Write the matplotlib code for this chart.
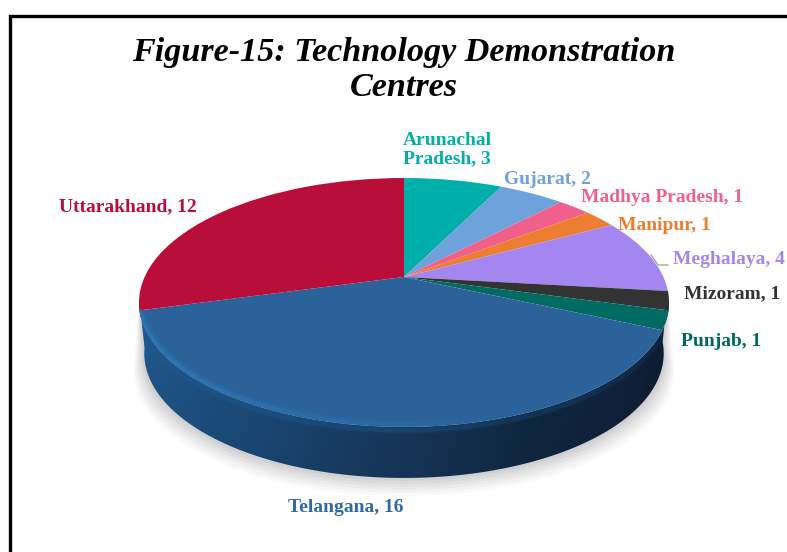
import numpy as np
import matplotlib
matplotlib.use("Agg")
import matplotlib.pyplot as plt
from matplotlib.transforms import Transform
from matplotlib.patches import Polygon
from matplotlib.collections import LineCollection
from matplotlib.colors import to_rgb

states = ["Arunachal\nPradesh", "Gujarat", "Madhya Pradesh", "Manipur", "Meghalaya",
          "Mizoram", "Punjab", "Telangana", "Uttarakhand"]
centres = [3, 2, 1, 1, 4, 1, 1, 16, 12]
slice_colors = ["#00AFA9", "#6EA2DB", "#F0608A", "#ED7D31", "#A386EF",
                "#333333", "#006B63", "#2A6299", "#B90E3A"]
label_colors = ["#00AFA9", "#6EA2DB", "#F0608A", "#ED7D31", "#A386EF",
                "#333333", "#00695F", "#2E6AA3", "#B90E3A"]
label_xy = [(403, 150), (504, 179), (581, 197), (618, 225), (673, 260),
            (684, 294), (681, 341), (288, 507), (59, 207)]
title = "Figure-15: Technology Demonstration\nCentres"

CX, CY, A, B, K = 404.0, 277.0, 259.4, 119.26, 0.2047
DEPTH = 51.0
plt.rcParams["font.family"] = ["Liberation Serif", "DejaVu Serif"]


def project(xy):
    xy = np.asarray(xy, float)
    w = 1 + K * xy[..., 1]
    return np.stack([CX + A * xy[..., 0] / w, CY - B * xy[..., 1] / w], axis=-1)


class Perspective(Transform):
    input_dims = output_dims = 2
    is_affine = False

    def transform_non_affine(self, values):
        return project(values)


def arc(t1, t2, n=200):
    t = np.radians(np.linspace(t1, t2, n))
    return project(np.column_stack([np.cos(t), np.sin(t)]))


fig = plt.figure(figsize=(7.87, 5.52), dpi=100)
ax = fig.add_axes([0, 0, 1, 1])
wedges, _ = ax.pie(centres, colors=slice_colors, startangle=90, counterclock=False,
                   wedgeprops=dict(linewidth=0))
ax.set_aspect("auto")
ax.set_xlim(0, 787)
ax.set_ylim(552, 0)
ax.axis("off")
persp = Perspective() + ax.transData
for w in wedges:
    w.set_transform(persp)
    w.set_zorder(5)

# wall runs along the front of the pie, from the Mizoram slice to just past Telangana
tel = wedges[7]
wall_t1 = tel.theta1 - 6
wall_t2 = wedges[5].theta2
front = arc(wall_t1, wall_t2, 300)
back = front.copy()
back[:, 1] += DEPTH
back[:, 0] = CX + (back[:, 0] - CX) * 0.98
wall = np.vstack([front, back[::-1]])

# soft shadow
for grow, alpha in [(18, 0.04), (15, 0.05), (12, 0.06), (9, 0.06), (6, 0.07), (3, 0.08)]:
    sh = back.copy()
    sh[:, 0] = CX + (sh[:, 0] - CX) * (1 + grow / 265 * 0.6)
    sh[:, 1] += grow
    ax.add_patch(Polygon(np.vstack([front, sh[::-1]]), closed=True, fc="#707078", ec="none",
                         alpha=alpha, zorder=1))

# wall with horizontal and vertical shading
stops_x = [130, 250, 330, 420, 520, 640, 680]
stops_c = [(33, 90, 143), (28, 76, 124), (26, 66, 108), (24, 56, 92), (17, 42, 70), (15, 34, 58), (12, 26, 44)]
xs = np.linspace(130, 680, 300)
ys = np.linspace(300, 480, 120)
img = np.zeros((len(ys), len(xs), 3))
for c in range(3):
    col = np.interp(xs, stops_x, [s[c] for s in stops_c]) / 255
    img[:, :, c] = col
shade = np.interp(ys, [300, 480], [1.0, 0.9])
img *= shade[:, None, None]
im = ax.imshow(img, extent=(130, 680, 480, 300), origin="upper", aspect="auto", zorder=2,
               interpolation="bilinear")
clip = Polygon(wall, closed=True, transform=ax.transData, fc="none", ec="none")
ax.add_patch(clip)
im.set_clip_path(clip)
ax.set_xlim(0, 787)
ax.set_ylim(552, 0)

# bevel along the rim of the Telangana slice
rim = arc(tel.theta1, tel.theta2, 300)
segs = np.stack([rim[:-1], rim[1:]], axis=1)
frac = np.linspace(1, 0, len(segs))  # 1 = left end
base = np.array(to_rgb("#2F78B6"))
for off, lw, mult in [(-2.5, 7, 0.25), (-2.5, 4, 0.45), (-2.5, 2, 0.6)]:
    s = segs.copy()
    s[..., 1] += off
    alpha = np.clip((frac - 0.32) / 0.5, 0, 1) * mult
    cols = np.column_stack([np.tile(base, (len(segs), 1)), alpha])
    lc = LineCollection(s, colors=cols, linewidths=lw, capstyle="butt", zorder=6)
    ax.add_collection(lc)
    lc.set_clip_path(tel)
# soft transition from the face into the dark wall
for off, lw, a in [(2, 5, 0.40), (4, 4, 0.25)]:
    s = segs.copy()
    s[..., 1] += off
    cols = np.column_stack([np.tile(np.array(to_rgb("#1E5A92")), (len(segs), 1)),
                            np.full(len(segs), a) * np.clip(frac + 0.2, 0, 1)])
    lc = LineCollection(s, colors=cols, linewidths=lw, capstyle="butt", zorder=3)
    ax.add_collection(lc)
    lc.set_clip_path(clip)

# Labels
for name, val, col, (x, y) in zip(states, centres, label_colors, label_xy):
    ax.text(x, y, f"{name}, {val}", color=col, fontsize=14.0, fontweight="bold",
            ha="left", va="center", linespacing=1.1, zorder=8)
ax.plot([651, 658, 668], [255, 265, 265], color="#A6A6A6", lw=1, zorder=7)

ax.text(404, 70, title, color="black", fontsize=24.6, fontweight="bold", fontstyle="italic",
        ha="center", va="center", linespacing=1.2, zorder=8)

# frame running off the picture
ax.plot([9.5, 9.5, 800], [560, 15.5, 15.5], color="black", lw=2.4, solid_joinstyle="miter",
        clip_on=True, zorder=8)
fig.savefig("out.png", dpi=100, facecolor="white")
